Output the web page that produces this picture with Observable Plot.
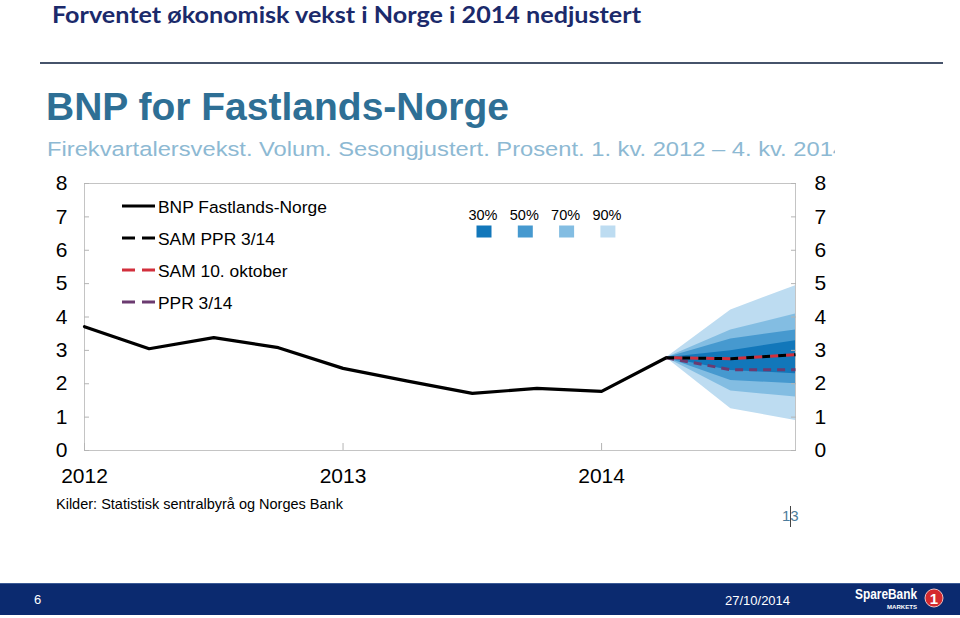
<!DOCTYPE html>
<html><head><meta charset="utf-8">
<script src="https://cdn.jsdelivr.net/npm/d3@7"></script>
<script src="https://cdn.jsdelivr.net/npm/@observablehq/plot@0.6"></script>
<style>
body{margin:0;width:960px;height:618px;position:relative;background:#fff;overflow:hidden;font-family:"Liberation Sans",Arial,sans-serif}
.abs{position:absolute;white-space:nowrap}
</style></head><body>
<svg class="abs" style="left:0;top:0" width="960" height="170">
  <defs><clipPath id="subclip"><rect x="40" y="130" width="795" height="40"/></clipPath></defs>
  <text x="52" y="22.5" fill="#1b2a6b" font-family="Lato" font-weight="700" font-size="22.5" textLength="589" lengthAdjust="spacingAndGlyphs">Forventet økonomisk vekst i Norge i 2014 nedjustert</text>
  <text x="47" y="156" clip-path="url(#subclip)" fill="#8db9d3" font-family="Liberation Sans" font-size="20.5" textLength="799" lengthAdjust="spacingAndGlyphs">Firekvartalersvekst. Volum. Sesongjustert. Prosent. 1. kv. 2012 – 4. kv. 2014</text>
</svg>
<div class="abs" style="left:40px;top:62px;width:903px;height:2px;background:#46536b"></div>
<div class="abs" style="left:46px;top:83px;font:700 39px 'Liberation Sans';line-height:48px;color:#2e6f95">BNP for Fastlands-Norge</div>
<div id="chart" class="abs" style="left:0;top:170px"></div>
<svg id="overlay" class="abs" style="left:0;top:0" width="960" height="618"></svg>
<div class="abs" style="left:56px;top:494px;font:14.5px 'Liberation Sans';line-height:20px;color:#000">Kilder: Statistisk sentralbyrå og Norges Bank</div>
<div class="abs" style="left:782px;top:506px;font:15px 'Liberation Sans';line-height:20px;color:#4d7c9b">13</div>
<div class="abs" style="left:790px;top:506px;width:1px;height:21px;background:#444"></div>
<div class="abs" style="left:0;top:583px;width:960px;height:31px;background:#0b2a6f;border-top:1px solid #3b5a95"></div>
<div class="abs" style="left:34px;top:591px;font:13px 'Liberation Sans';line-height:18px;color:#fff">6</div>
<div class="abs" style="left:725px;top:592px;font:13px 'Liberation Sans';line-height:18px;color:#fff">27/10/2014</div>
<svg class="abs" style="left:850px;top:584px" width="110" height="30">
  <text x="5" y="15" fill="#fff" font-family="Liberation Sans" font-weight="700" font-size="14" textLength="62" lengthAdjust="spacingAndGlyphs">SpareBank</text>
  <text x="37" y="25" fill="#fff" font-family="Liberation Sans" font-weight="700" font-size="5.5" textLength="30" lengthAdjust="spacingAndGlyphs">MARKETS</text>
  <circle cx="84" cy="14" r="9" fill="#d42a2f" stroke="#f2c0c0" stroke-width="1"/>
  <text x="84" y="19.5" fill="#fff" font-family="Liberation Sans" font-weight="700" font-size="15" text-anchor="middle">1</text>
</svg>
<script>
// ---- data ----
const histPeriods = [2012.0, 2012.25, 2012.5, 2012.75, 2013.0, 2013.25, 2013.5, 2013.75, 2014.0, 2014.25];
const gdpMainland = [3.71, 3.05, 3.38, 3.08, 2.46, 2.08, 1.71, 1.86, 1.77, 2.78];
const fcPeriods = [2014.25, 2014.5, 2014.75];
const samPPR314 = [2.78, 2.75, 2.87];
const sam10okt = [2.78, 2.75, 2.87];
const ppr314 = [2.78, 2.42, 2.42];
const band90lo = [2.78, 1.25, 0.90], band90hi = [2.78, 4.21, 4.94];
const band70lo = [2.78, 1.78, 1.60], band70hi = [2.78, 3.61, 4.09];
const band50lo = [2.78, 2.10, 2.00], band50hi = [2.78, 3.34, 3.61];
const band30lo = [2.78, 2.40, 2.30], band30hi = [2.78, 2.99, 3.29];
const bandLabels = ["30%", "50%", "70%", "90%"];
const bandColors = ["#1277ba", "#4699cf", "#83bde2", "#bddcf1"];
const yTicks = [0, 1, 2, 3, 4, 5, 6, 7, 8];
const xTicks = [2012, 2013, 2014];
const lineLabels = ["BNP Fastlands-Norge", "SAM PPR 3/14", "SAM 10. oktober", "PPR 3/14"];
const lineColors = ["#000000", "#000000", "#d22f3c", "#6b3a70"];
const lineDashed = [false, true, true, true];

// ---- build ----
const hist = histPeriods.map((t, i) => ({t, v: gdpMainland[i]}));
const fc = fcPeriods.map((t, i) => ({t, sam: samPPR314[i], okt: sam10okt[i], ppr: ppr314[i]}));
const bands = [
  {lo: band90lo, hi: band90hi, c: bandColors[3]},
  {lo: band70lo, hi: band70hi, c: bandColors[2]},
  {lo: band50lo, hi: band50hi, c: bandColors[1]},
  {lo: band30lo, hi: band30hi, c: bandColors[0]}
];
const bandMarks = bands.map(b => Plot.areaY(fcPeriods.map((t, i) => ({t, lo: b.lo[i], hi: b.hi[i]})),
  {x: "t", y1: "lo", y2: "hi", fill: b.c}));
const tickStroke = "#b4b4b4";

const chart = Plot.plot({
  width: 960, height: 320,
  marginTop: 13, marginBottom: 40, marginLeft: 84, marginRight: 165,
  x: {domain: [2012, 2014.75], label: null},
  y: {domain: [0, 8], label: null},
  style: {fontFamily: "Liberation Sans, Arial, sans-serif", fontSize: "21px", color: "#000", background: "transparent"},
  marks: [
    ...bandMarks,
    Plot.frame({stroke: "#c4c4c4"}),
    Plot.axisY(yTicks, {anchor: "left", tickSize: 5, dx: 5, text: null, stroke: tickStroke}),
    Plot.axisY(yTicks, {anchor: "right", tickSize: 5, dx: -5, text: null, stroke: tickStroke}),
    Plot.axisY(yTicks, {anchor: "left", tickSize: 0, tickPadding: 17, label: null, fill: "#000"}),
    Plot.axisY(yTicks, {anchor: "right", tickSize: 0, tickPadding: 19, label: null, fill: "#000"}),
    Plot.axisX(xTicks, {anchor: "bottom", tickSize: 7, dy: -7, text: null, stroke: tickStroke}),
    Plot.axisX(xTicks, {anchor: "bottom", tickSize: 0, tickPadding: 18, label: null, tickFormat: d => String(d), fill: "#000"}),
    Plot.line(hist, {x: "t", y: "v", stroke: "#000", strokeWidth: 3.2}),
    Plot.line(fc, {x: "t", y: "ppr", stroke: lineColors[3], strokeWidth: 3, strokeDasharray: "8,6", strokeLinecap: "butt"}),
    Plot.line(fc, {x: "t", y: "sam", stroke: lineColors[1], strokeWidth: 3, strokeDasharray: "8,8", strokeLinecap: "butt"}),
    Plot.line(fc, {x: "t", y: "okt", stroke: lineColors[2], strokeWidth: 3, strokeDasharray: "8,8", strokeDashoffset: 8, strokeLinecap: "butt"})
  ]
});
document.getElementById("chart").append(chart);

// ---- legends ----
const ov = d3.select("#overlay");
lineLabels.forEach((lab, i) => {
  const y = 206 + i * 32;
  ov.append("line").attr("x1", 122).attr("x2", 155).attr("y1", y).attr("y2", y)
    .attr("stroke", lineColors[i]).attr("stroke-width", 3)
    .attr("stroke-dasharray", lineDashed[i] ? "13,7" : null);
  ov.append("text").attr("x", 158).attr("y", y + 7).text(lab)
    .attr("font-family", "Liberation Sans").attr("font-size", 17.4).attr("fill", "#000");
});
bandLabels.forEach((lab, i) => {
  const cx = 484 + i * 41.3;
  ov.append("text").attr("x", cx - 1).attr("y", 219.5).attr("text-anchor", "middle").text(lab)
    .attr("font-family", "Liberation Sans").attr("font-size", 14.5).attr("fill", "#000");
  ov.append("rect").attr("x", cx - 7.5).attr("y", 225.5).attr("width", 15).attr("height", 12).attr("fill", bandColors[i]);
});
</script>
</body></html>
